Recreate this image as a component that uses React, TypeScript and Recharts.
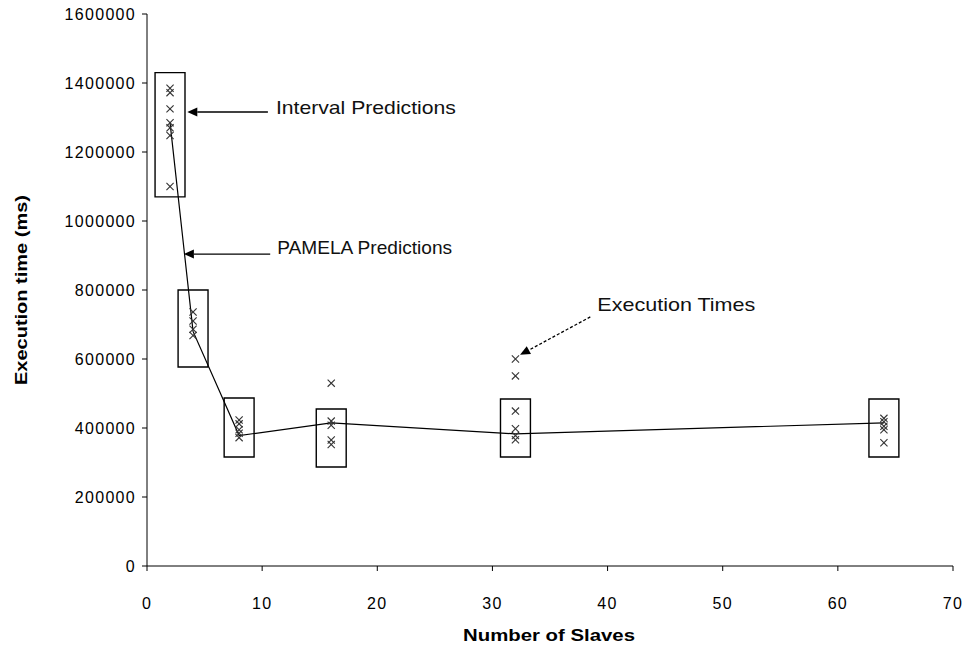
import { ComposedChart, Label, Line, ReferenceArea, ReferenceLine, Scatter, XAxis, YAxis } from 'recharts'

// Number of slaves used in each run.
const SLAVES = [2, 4, 8, 16, 32, 64]

// PAMELA predicted execution time (ms) per slave count.
const PAMELA = [1285000, 680000, 378000, 415000, 383000, 415000]

// Interval prediction bounds (ms).
const INTERVAL_LOW = [1070000, 577000, 316000, 287000, 316000, 316000]
const INTERVAL_HIGH = [1430000, 800000, 487000, 455000, 484000, 484000]

// Measured execution times (ms), one list per slave count.
const EXEC_2 = [1385000, 1372000, 1325000, 1285000, 1270000, 1248000, 1100000]
const EXEC_4 = [736000, 710000, 686000, 668000]
const EXEC_8 = [423000, 412000, 395000, 385000, 372000]
const EXEC_16 = [530000, 420000, 408000, 365000, 352000]
const EXEC_32 = [600000, 551000, 449000, 398000, 378000, 366000]
const EXEC_64 = [428000, 418000, 405000, 395000, 357000]

const Y_TICKS = [0, 200000, 400000, 600000, 800000, 1000000, 1200000, 1400000, 1600000]
const X_TICKS = [0, 10, 20, 30, 40, 50, 60, 70]

const BOX_HALF = 1.3
const FONT = '"Liberation Sans", Arial, sans-serif'
const NARROW = '"Liberation Sans Narrow", "Arial Narrow", "Liberation Sans", Arial, sans-serif'
const TICK = { fill: '#000', fontSize: 16, fontFamily: FONT, letterSpacing: 1.3 }

const linePoints = SLAVES.map((x, i) => ({ x, y: PAMELA[i] }))
const execPoints = [EXEC_2, EXEC_4, EXEC_8, EXEC_16, EXEC_32, EXEC_64].flatMap((list, i) =>
  list.map((y) => ({ x: SLAVES[i], y })),
)

function Cross({ cx, cy }: { cx?: number; cy?: number }) {
  if (cx == null || cy == null) return null
  const s = 3.6
  return (
    <g stroke="#333" strokeWidth={1.1}>
      <line x1={cx - s} y1={cy - s} x2={cx + s} y2={cy + s} />
      <line x1={cx - s} y1={cy + s} x2={cx + s} y2={cy - s} />
    </g>
  )
}

// Arrow from (x1,y1) tail to (x2,y2) head, with a caption beside the tail.
function arrowShape(text: string, dx: number, dy: number, width: number, dashed = false) {
  return (props: any) => {
    const { x1, y1, x2, y2 } = props
    const ang = Math.atan2(y2 - y1, x2 - x1)
    const len = 10
    const half = 4.5
    const bx = x2 - len * Math.cos(ang)
    const by = y2 - len * Math.sin(ang)
    const px = -Math.sin(ang) * half
    const py = Math.cos(ang) * half
    return (
      <g>
        <line
          x1={x1}
          y1={y1}
          x2={bx}
          y2={by}
          stroke="#000"
          strokeWidth={1.3}
          strokeDasharray={dashed ? '3 2' : undefined}
        />
        <polygon points={`${x2},${y2} ${bx + px},${by + py} ${bx - px},${by - py}`} fill="#000" />
        <text
          x={x1 + dx}
          y={y1 + dy}
          dominantBaseline="central"
          fontSize={19}
          fontFamily={FONT}
          fill="#111"
          textLength={width}
          lengthAdjust="spacingAndGlyphs"
        >
          {text}
        </text>
      </g>
    )
  }
}

export default function App() {
  return (
    <div style={{ position: 'absolute', left: 0, top: 0, background: '#fff' }}>
      <ComposedChart width={971} height={649} margin={{ top: 14, right: 18, bottom: 53, left: 80 }}>
        <XAxis
          type="number"
          dataKey="x"
          domain={[0, 70]}
          ticks={X_TICKS}
          interval={0}
          tick={TICK}
          tickSize={5}
          tickMargin={27}
          height={30}
          stroke="#000"
          allowDataOverflow
        >
          <Label
            content={() => (
              <text
                x={549}
                y={635}
                textAnchor="middle"
                dominantBaseline="central"
                fontSize={17}
                fontWeight="bold"
                fontFamily={NARROW}
                textLength={172}
                lengthAdjust="spacingAndGlyphs"
              >
                Number of Slaves
              </text>
            )}
          />
        </XAxis>
        <YAxis
          type="number"
          dataKey="y"
          domain={[0, 1600000]}
          ticks={Y_TICKS}
          interval={0}
          tick={TICK}
          tickSize={5}
          tickMargin={6}
          width={67}
          stroke="#000"
        >
          <Label
            content={() => (
              <text
                x={21}
                y={290}
                transform="rotate(-90 21 290)"
                textAnchor="middle"
                dominantBaseline="central"
                fontSize={17}
                fontWeight="bold"
                fontFamily={NARROW}
                textLength={190}
                lengthAdjust="spacingAndGlyphs"
              >
                Execution time  (ms)
              </text>
            )}
          />
        </YAxis>

        {SLAVES.map((x, i) => (
          <ReferenceArea
            key={x}
            x1={x - BOX_HALF}
            x2={x + BOX_HALF}
            y1={INTERVAL_LOW[i]}
            y2={INTERVAL_HIGH[i]}
            fill="none"
            stroke="#000"
            strokeWidth={1.4}
            fillOpacity={0}
            ifOverflow="visible"
          />
        ))}

        <Line
          data={linePoints}
          dataKey="y"
          type="linear"
          stroke="#000"
          strokeWidth={1.2}
          dot={false}
          activeDot={false}
          isAnimationActive={false}
        />
        <Scatter data={execPoints} dataKey="y" shape={<Cross />} isAnimationActive={false} />

        <ReferenceLine
          segment={[
            { x: 10.5, y: 1316000 },
            { x: 3.5, y: 1316000 },
          ]}
          ifOverflow="visible"
          shape={arrowShape('Interval Predictions', 8, -4, 180)}
        />
        <ReferenceLine
          segment={[
            { x: 10.7, y: 904000 },
            { x: 3.2, y: 904000 },
          ]}
          ifOverflow="visible"
          shape={arrowShape('PAMELA Predictions', 7, -7, 175)}
        />
        <ReferenceLine
          segment={[
            { x: 38.5, y: 722000 },
            { x: 32.4, y: 612000 },
          ]}
          ifOverflow="visible"
          shape={arrowShape('Execution Times', 7, -12, 158, true)}
        />
      </ComposedChart>
    </div>
  )
}
